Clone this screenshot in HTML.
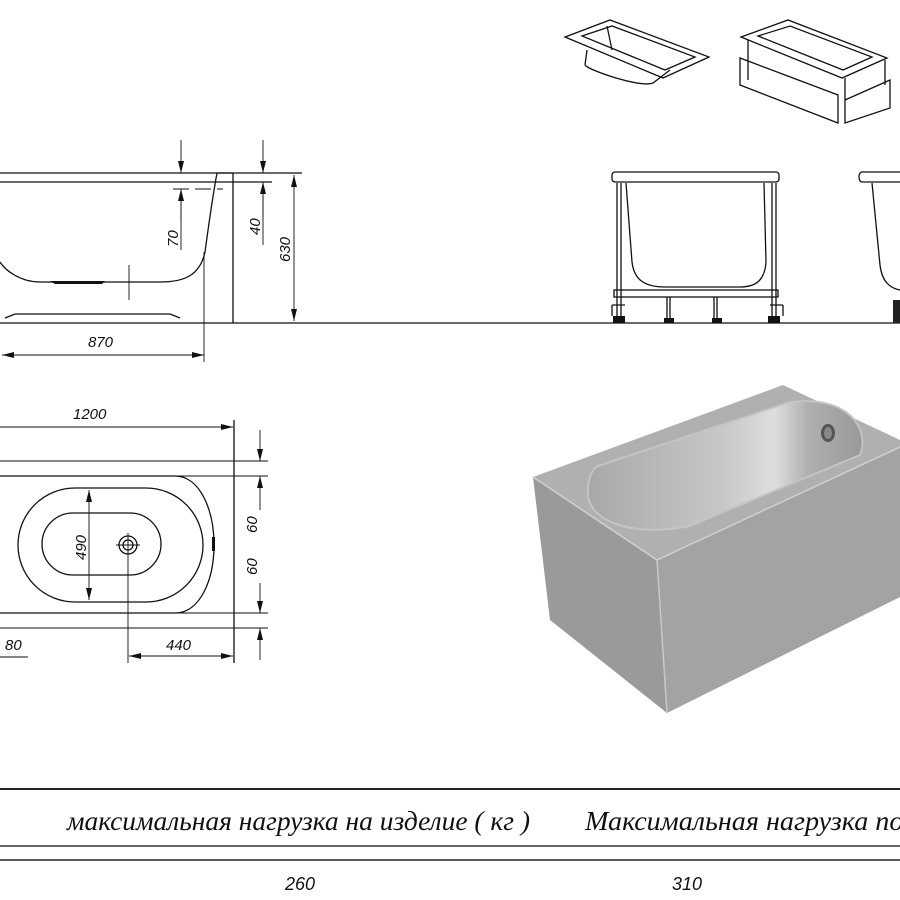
<!DOCTYPE html>
<html><head><meta charset="utf-8"><style>
html,body{margin:0;padding:0;background:#fff;}
svg{display:block;}
.l{stroke:#111;fill:none;stroke-width:1.3}
.t{stroke:#111;fill:none;stroke-width:0.9}
.d{font-family:"Liberation Sans",sans-serif;font-style:italic;font-size:15px;fill:#111}
</style></head><body>
<svg width="900" height="900" viewBox="0 0 900 900" xmlns="http://www.w3.org/2000/svg">
<defs>
<marker id="a" markerWidth="12" markerHeight="6" refX="12" refY="3" orient="auto-start-reverse" markerUnits="userSpaceOnUse"><path d="M0,0 L12,3 L0,6 Z" fill="#111"/></marker>
<linearGradient id="g" x1="0" y1="0" x2="1" y2="0"><stop offset="0" stop-color="#a8a8a8"/><stop offset="0.5" stop-color="#c8c8c8"/><stop offset="0.68" stop-color="#dedede"/><stop offset="0.8" stop-color="#b0b0b0"/><stop offset="1" stop-color="#999"/></linearGradient>
</defs>

<!-- Side view -->
<path class="l" d="M0,173 H302 M0,182 H272"/>
<path class="l" d="M217,173 H233 V323 M217,173 C212,200 208,230 205,252 C200,275 185,282 160,282 H40 C20,282 5,270 0,262"/>
<path d="M50,281 H105 L102,284 H55 Z" fill="#111"/>
<path class="t" d="M129,265 V300 M120,282 H138"/>
<path class="l" d="M0,323 H900"/>
<path class="l" d="M5,318 L15,314 H170 L180,318"/>
<path class="t" d="M204,252 V362"/>
<line class="t" x1="2" y1="355" x2="204" y2="355" marker-start="url(#a)" marker-end="url(#a)"/>
<text class="d" x="88" y="347">870</text>
<line class="t" x1="181" y1="140" x2="181" y2="173" marker-end="url(#a)"/>
<line class="t" x1="181" y1="222" x2="181" y2="189" marker-end="url(#a)"/>
<path class="t" d="M181,189 V250"/>
<path class="t" d="M173,189 H223" stroke-dasharray="16,6"/>
<text class="d" transform="translate(178,247) rotate(-90)">70</text>
<line class="t" x1="263" y1="140" x2="263" y2="173" marker-end="url(#a)"/>
<line class="t" x1="263" y1="215" x2="263" y2="182" marker-end="url(#a)"/>
<path class="t" d="M263,182 V245"/>
<text class="d" transform="translate(260,235) rotate(-90)">40</text>
<line class="t" x1="294" y1="175" x2="294" y2="321" marker-start="url(#a)" marker-end="url(#a)"/>
<text class="d" transform="translate(290,262) rotate(-90)">630</text>

<!-- Plan view -->
<line class="t" x1="0" y1="427" x2="233" y2="427" marker-end="url(#a)"/>
<text class="d" x="73" y="419">1200</text>
<path class="l" d="M234,420 V663"/>
<path class="t" d="M0,461 H268 M0,476 H268 M0,613 H268 M0,628 H268"/>
<path class="l" d="M0,476 H175 C200,476 214,510 214,545 C214,580 200,613 175,613 H0"/>
<rect class="l" x="18" y="488" width="185" height="114" rx="57" ry="57"/>
<rect class="l" x="42" y="513" width="119" height="62" rx="31" ry="31"/>
<path d="M212,537 h3 v14 h-3 z" fill="#111"/>
<line class="t" x1="89" y1="490" x2="89" y2="600" marker-start="url(#a)" marker-end="url(#a)"/>
<text class="d" transform="translate(86,560) rotate(-90)">490</text>
<circle class="l" cx="128" cy="545" r="9"/><circle class="l" cx="128" cy="545" r="5"/>
<path class="t" d="M116,545 H140 M128,533 V663"/>
<line class="t" x1="129" y1="656" x2="233" y2="656" marker-start="url(#a)" marker-end="url(#a)"/>
<text class="d" x="166" y="650">440</text>
<text class="d" x="5" y="650">80</text>
<path class="t" d="M0,657 H28"/>
<line class="t" x1="260" y1="430" x2="260" y2="461" marker-end="url(#a)"/>
<line class="t" x1="260" y1="510" x2="260" y2="476" marker-end="url(#a)"/>
<line class="t" x1="260" y1="583" x2="260" y2="613" marker-end="url(#a)"/>
<line class="t" x1="260" y1="660" x2="260" y2="628" marker-end="url(#a)"/>
<text class="d" transform="translate(257,533) rotate(-90)">60</text>
<text class="d" transform="translate(257,575) rotate(-90)">60</text>

<!-- Small iso tubs -->
<path class="l" d="M565,37 L610,20 L709,57 L663,78 Z M582,36 L612,26 L695,57 L665,70 Z M585,65 L587,50 M585,65 C588,70 640,88 653,83 L670,70 M607,26 L612,50"/>
<path class="l" d="M741,37 L788,20 L887,58 L842,78 Z M758,36 L790,26 L872,57 L843,70 Z M740,58 L740,85 L838,123 L838,95 Z M845,100 L890,80 L890,108 L845,123 Z M748,40 V80 M885,60 V85 M845,78 V123"/>

<!-- Stand view -->
<rect class="l" x="612" y="172" width="167" height="10" rx="3"/>
<path class="l" d="M626,183 L632,262 C634,280 645,287 665,287 H740 C758,287 765,278 766,262 L764,183"/>
<path class="l" d="M617,183 V323 M621,183 V323 M772,183 V323 M776,183 V323"/>
<rect class="l" x="614" y="290" width="164" height="7"/>
<path class="l" d="M670,297 V323 M667,297 V323 M717,297 V323 M714,297 V323 M612,305 V316 M612,305 H625 M783,305 V316 M770,305 H783"/>
<rect x="613" y="316" width="12" height="7" fill="#111"/><rect x="768" y="316" width="12" height="7" fill="#111"/>
<rect x="664" y="318" width="10" height="5" fill="#111"/><rect x="712" y="318" width="10" height="5" fill="#111"/>
<path class="l" d="M900,172 H862 C858,172 858,182 862,182 H900 M872,183 L880,265 C882,282 890,288 900,290"/>
<rect x="893" y="300" width="7" height="23" fill="#222"/>

<!-- 3D render -->
<polygon points="533,477 657,560 667,713 550,620" fill="#9a9a9a"/>
<polygon points="657,560 900,447 900,597 667,713" fill="#a3a3a3"/>
<polygon points="533,477 783,385 900,440 900,447 657,560" fill="#b0b0b0"/>
<path d="M533,477 L657,560 L900,447" stroke="#d0d0d0" stroke-width="1.5" fill="none"/>
<path d="M657,560 L667,713" stroke="#c8c8c8" stroke-width="1.5"/>
<path d="M598,466 L790,402 C850,395 870,430 860,455 L690,526 C630,538 585,520 588,490 C588,478 592,469 598,466 Z" fill="url(#g)" stroke="#c4c4c4" stroke-width="2"/>
<ellipse cx="828" cy="433" rx="7" ry="9" fill="#555"/>
<ellipse cx="828" cy="433" rx="4" ry="6" fill="#888"/>

<!-- Table -->
<path d="M0,789 H900" stroke="#222" stroke-width="2"/>
<path d="M0,846 H900" stroke="#333" stroke-width="1.5"/>
<path d="M0,860 H900" stroke="#222" stroke-width="1.5"/>
<text x="67" y="830" font-family="Liberation Serif, serif" font-style="italic" font-size="27" textLength="463" lengthAdjust="spacingAndGlyphs" fill="#111">максимальная нагрузка на изделие ( кг )</text>
<text x="585" y="830" font-family="Liberation Serif, serif" font-style="italic" font-size="27" textLength="330" lengthAdjust="spacingAndGlyphs" fill="#111">Максимальная нагрузка пол</text>
<text x="285" y="890" font-family="Liberation Sans, sans-serif" font-style="italic" font-size="18" fill="#111">260</text>
<text x="672" y="890" font-family="Liberation Sans, sans-serif" font-style="italic" font-size="18" fill="#111">310</text>
</svg>
</body></html>
